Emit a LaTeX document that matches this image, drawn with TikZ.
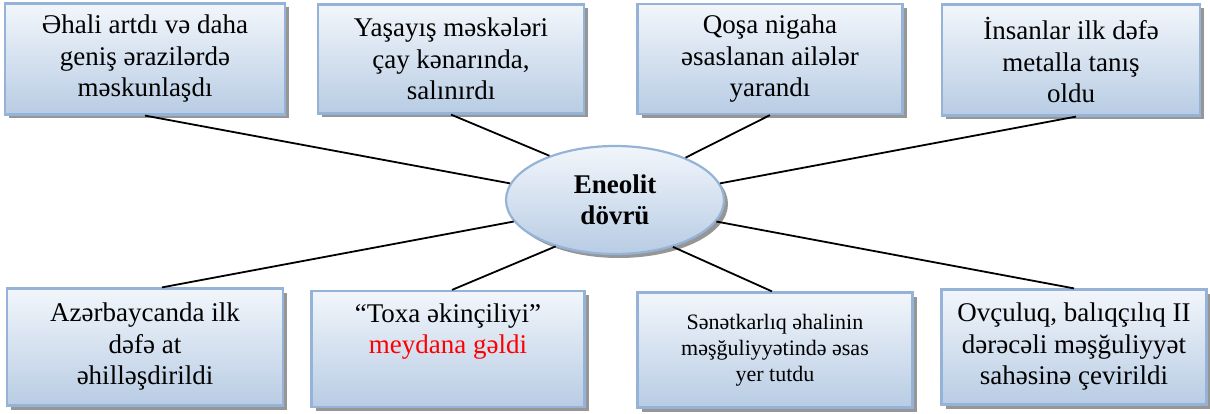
\documentclass[tikz,border=0pt]{standalone}
\usepackage{fontspec}
\setmainfont{Liberation Serif}
\newfontfamily\tnr{Liberation Serif}
\usetikzlibrary{shapes.geometric,shadows}
\definecolor{bordc}{RGB}{149,179,215}
\definecolor{topc}{RGB}{242,246,251}
\definecolor{botc}{RGB}{184,204,228}
\definecolor{redtxt}{RGB}{255,0,0}
\tikzset{
  ibox/.style={draw=bordc, line width=2.2pt, top color=topc, bottom color=botc,
    align=center, inner sep=0pt, font=\tnr\fontsize{27}{31.5}\selectfont,
    drop shadow={shadow xshift=4pt, shadow yshift=-4pt, fill=black!55, opacity=0.75}},
  smalltxt/.style={font=\tnr\fontsize{22}{26}\selectfont},
  ell/.style={ellipse, draw=bordc, line width=2.2pt, top color=topc, bottom color=botc,
    align=center, inner sep=0pt, font=\tnr\fontsize{27}{31}\selectfont\bfseries,
    minimum width=218pt, minimum height=108pt,
    drop shadow={shadow xshift=4pt, shadow yshift=-4pt, fill=black!55, opacity=0.75}},
  conn/.style={draw=black, line width=1.8pt}
}
\begin{document}
\begin{tikzpicture}[x=1pt,y=-1pt]
\useasboundingbox (0,0) rectangle (1210,414);
% top boxes
\node[ibox, minimum width=280pt, minimum height=111pt] (b1) at (145,59)
  {Əhali artdı və daha\\geniş ərazilərdə\\məskunlaşdı};
\node[ibox, minimum width=266pt, minimum height=109pt] (b2) at (451,59)
  {Yaşayış məskələri\\çay kənarında,\\salınırdı};
\node[ibox, minimum width=265pt, minimum height=110pt] (b3) at (770,59)
  {Qoşa nigaha\\əsaslanan ailələr\\yarandı};
\node[ibox, minimum width=258pt, minimum height=111pt] (b4) at (1071,60)
  {İnsanlar ilk dəfə\\metalla tanış\\oldu};
% bottom boxes
\node[ibox, minimum width=276pt, minimum height=117pt] (b5) at (145,347)
  {Azərbaycanda ilk\\dəfə at\\əhilləşdirildi};
\node[ibox, minimum width=273pt, minimum height=116pt] (b6) at (448,349)
  {“Toxa əkinçiliyi”\\\textcolor{redtxt}{meydana gəldi}\\\strut};
\node[ibox, smalltxt, minimum width=275pt, minimum height=115pt] (b7) at (775,350)
  {Sənətkarlıq əhalinin\\məşğuliyyətində əsas\\yer tutdu};
\node[ibox, minimum width=265pt, minimum height=115pt] (b8) at (1074,347)
  {Ovçuluq, balıqçılıq II\\dərəcəli məşğuliyyət\\sahəsinə çevirildi};
% centre
\node[ell] (e) at (615,200) {Eneolit\\dövrü};
% connectors
\draw[conn] (b1.south) -- (e.171);
\draw[conn] (b2.south) -- (e.146);
\draw[conn] (b3.south) -- (e.31);
\draw[conn] ([xshift=5pt]b4.south) -- (e.9);
\draw[conn] ([xshift=17pt]b5.north) -- (e.192);
\draw[conn] ([xshift=4pt]b6.north) -- (e.218);
\draw[conn] ([xshift=-3pt]b7.north) -- (e.321);
\draw[conn] (b8.north) -- (e.348);
\end{tikzpicture}
\end{document}
